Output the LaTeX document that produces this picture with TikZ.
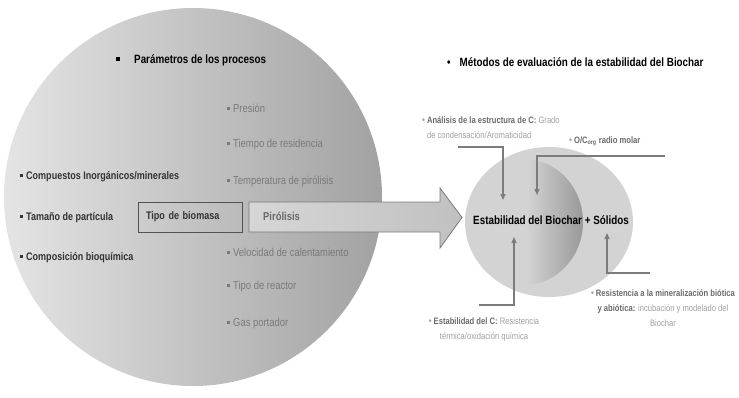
\documentclass[tikz,border=0pt]{standalone}
\usepackage{fontspec}
\setmainfont{Liberation Sans}[FakeStretch=0.82]
\usepackage{tikz}
\usetikzlibrary{arrows.meta,positioning}

\definecolor{discleft}{HTML}{E4E4E4}
\definecolor{discright}{HTML}{A2A2A2}
\definecolor{factorgray}{HTML}{333333}
\definecolor{paramgray}{HTML}{7A7A7A}
\definecolor{arrowfill}{HTML}{D6D6D6}
\definecolor{arrowedge}{HTML}{7A7A7A}
\definecolor{ringgray}{HTML}{D3D3D3}
\definecolor{lensdark}{HTML}{999999}
\definecolor{notegray}{HTML}{A0A0A0}
\definecolor{notebold}{HTML}{6A6A6A}
\definecolor{linkgray}{HTML}{7C7C7C}

\newcommand{\parbullet}{\raisebox{2.5pt}{\rule{3pt}{3pt}}\hspace{3pt}}
\newcommand{\notebullet}{{\color{notegray}\fontsize{10}{10}\selectfont •}\hspace{2pt}}

\tikzset{
  heading/.style={anchor=west, inner sep=0pt, font=\bfseries\fontsize{12}{14}\selectfont},
  factor/.style={anchor=west, inner sep=0pt, text=factorgray, font=\bfseries\fontsize{11}{13}\selectfont},
  param/.style={anchor=west, inner sep=0pt, text=paramgray, font=\fontsize{11.5}{13}\selectfont},
  note/.style={inner sep=0pt, text=notegray, align=center, font=\fontsize{9.3}{15}\selectfont},
  link/.style={draw=linkgray, line width=1.1pt, -{Triangle[length=6pt,width=5pt]}},
}

\begin{document}
\begin{tikzpicture}[x=1pt, y=-1pt]
\useasboundingbox (0,0) rectangle (739,397);

% Process parameters disc
\shade[left color=discleft, right color=discright] (193,197) circle (189pt);

% Pyrolysis arrow
\shade[left color=arrowfill, right color=arrowfill!90!black, draw=arrowedge, line width=0.8pt]
  (249,202) -- (440,202) -- (440,188) -- (462,217.5) -- (440,248) -- (440,232) -- (249,232) -- cycle;

% Headings
\node[heading] (procHead) at (116,60) {\raisebox{2.5pt}{\rule{4pt}{4pt}}\hspace{14pt}Parámetros de los procesos};
\node[heading] (evalHead) at (447,62) {{\fontsize{12}{12}\selectfont •}\hspace{9pt}Métodos de evaluación de la estabilidad del Biochar};

% Biomass factors
\node[factor] (inorg) at (20,177) {\parbullet Compuestos Inorgánicos/minerales};
\node[factor] (size) at (20,218) {\parbullet Tamaño de partícula};
\node[factor] (comp) at (20,258) {\parbullet Composición bioquímica};
\node[draw=factorgray!85, line width=0.8pt, minimum width=104pt, minimum height=30pt,
      text width=88pt, align=left, text=factorgray, font=\bfseries\fontsize{11}{13}\selectfont]
  (biomasa) at (190,217) {Tipo de biomasa};

% Pyrolysis parameters
\node[param] (pres) at (227,108) {\parbullet Presión};
\node[param] (tiempo) at (227,145) {\parbullet Tiempo de residencia};
\node[param] (temp) at (227,181) {\parbullet Temperatura de pirólisis};
\node[anchor=west, inner sep=0pt, text=notebold, font=\bfseries\fontsize{11.5}{13}\selectfont]
  (piro) at (263,216) {Pirólisis};
\node[param] (veloc) at (227,252) {\parbullet Velocidad de calentamiento};
\node[param] (reactor) at (227,287) {\parbullet Tipo de reactor};
\node[param] (gas) at (227,324) {\parbullet Gas portador};

% Biochar stability discs
\fill[ringgray] (549,222) ellipse [x radius=84pt, y radius=75pt];
\begin{scope}
  \clip (524,222) ellipse [x radius=59pt, y radius=63pt];
  \shade[left color=ringgray, right color=lensdark] (527,150) rectangle (583,300);
\end{scope}
\node[inner sep=0pt, font=\bfseries\fontsize{12}{14}\selectfont] (estab) at (551,220) {Estabilidad del Biochar + Sólidos};

% Evaluation methods
\node[note, anchor=west, align=left] (analisis) at (422,127.5)
  {\notebullet{\bfseries\color{notebold}Análisis de la estructura de C:} Grado\\
   \hphantom{\notebullet}de condensación/Aromaticidad};
\node[note, anchor=west] (ocorg) at (569,141)
  {\notebullet{\bfseries\color{notebold}O/C\textsubscript{org} radio molar}};
\node[note] (estC) at (484,329.5)
  {\notebullet{\bfseries\color{notebold}Estabilidad del C:} Resistencia\\
   térmica/oxidación química};
\node[note] (resist) at (663,308.5)
  {\notebullet{\bfseries\color{notebold}Resistencia a la mineralización biótica}\\
   {\bfseries\color{notebold}y abiótica:} incubación y modelado del\\
   Biochar};

% Connectors
\coordinate (analisisEnd) at (458,147);
\coordinate (analisisTip) at (503,200);
\coordinate (ocorgEnd) at (665,156);
\coordinate (ocorgTip) at (537,195);
\coordinate (estCEnd) at (479,305);
\coordinate (estCTip) at (514,237);
\coordinate (resistEnd) at (650,273);
\coordinate (resistTip) at (607,233);
\draw[link] (analisisEnd) -| (analisisTip);
\draw[link] (ocorgEnd) -| (ocorgTip);
\draw[link] (estCEnd) -| (estCTip);
\draw[link] (resistEnd) -| (resistTip);
\end{tikzpicture}
\end{document}
